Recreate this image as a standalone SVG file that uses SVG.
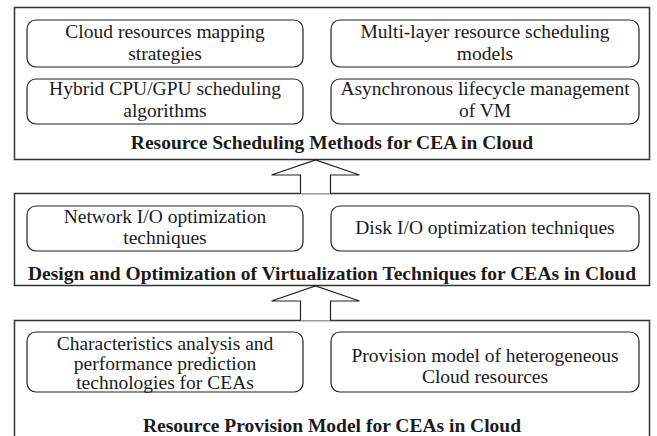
<svg xmlns="http://www.w3.org/2000/svg" width="657" height="436" viewBox="0 0 657 436">
<style>
.outer{fill:#fff;stroke:#333;stroke-width:1.5}
.inner{fill:#fff;stroke:#222;stroke-width:1.2}
text{font-family:"Liberation Serif","Times New Roman",serif;font-size:19.5px;fill:#1a1a1a;text-anchor:middle}
.title{font-weight:bold}
.arrow{fill:#fff;stroke:#222;stroke-width:1.2}
</style>
<rect width="657" height="436" fill="#fff"/>
<g id="layer-scheduling">
<rect class="outer" x="14.5" y="7.5" width="635" height="152"/>
<text class="title" x="332" y="149">Resource Scheduling Methods for CEA in Cloud</text>
</g>
<g id="node-mapping">
<rect class="inner" x="27" y="20" width="276" height="47" rx="9"/>
<text x="165" y="38">Cloud resources mapping</text>
<text x="165" y="60">strategies</text>
</g>
<g id="node-multilayer">
<rect class="inner" x="331" y="20" width="308" height="47" rx="9"/>
<text x="485" y="38">Multi-layer resource scheduling</text>
<text x="485" y="60">models</text>
</g>
<g id="node-hybrid">
<rect class="inner" x="27" y="79" width="276" height="45" rx="9"/>
<text x="165" y="95">Hybrid CPU/GPU scheduling</text>
<text x="165" y="117">algorithms</text>
</g>
<g id="node-async">
<rect class="inner" x="331" y="79" width="308" height="45" rx="9"/>
<text x="485" y="95">Asynchronous lifecycle management</text>
<text x="485" y="117">of VM</text>
</g>
<g id="layer-virtualization">
<rect class="outer" x="14.5" y="193.5" width="635" height="92"/>
<text class="title" x="332" y="280">Design and Optimization of Virtualization Techniques for CEAs in Cloud</text>
</g>
<g id="node-network">
<rect class="inner" x="27" y="206" width="276" height="45" rx="9"/>
<text x="165" y="223">Network I/O optimization</text>
<text x="165" y="244">techniques</text>
</g>
<g id="node-disk">
<rect class="inner" x="331" y="206" width="308" height="45" rx="9"/>
<text x="485" y="234">Disk I/O optimization techniques</text>
</g>
<g id="layer-provision">
<rect class="outer" x="14.5" y="320.5" width="635" height="130"/>
<text class="title" x="332" y="432">Resource Provision Model for CEAs in Cloud</text>
</g>
<g id="node-characteristics">
<rect class="inner" x="27" y="332" width="276" height="60" rx="9"/>
<text x="165" y="350">Characteristics analysis and</text>
<text x="165" y="370">performance prediction</text>
<text x="165" y="389">technologies for CEAs</text>
</g>
<g id="node-heterogeneous">
<rect class="inner" x="331" y="332" width="308" height="60" rx="9"/>
<text x="485" y="362">Provision model of heterogeneous</text>
<text x="485" y="383">Cloud resources</text>
</g>
<g id="connectors">
<path class="arrow" d="M300.5,193.5 V175 H271.5 L315.5,160 L359.5,175 H330.5 V193.5"/>
<path class="arrow" d="M300.5,320.5 V301 H271.5 L315.5,286 L359.5,301 H330.5 V320.5"/>
</g>
</svg>
